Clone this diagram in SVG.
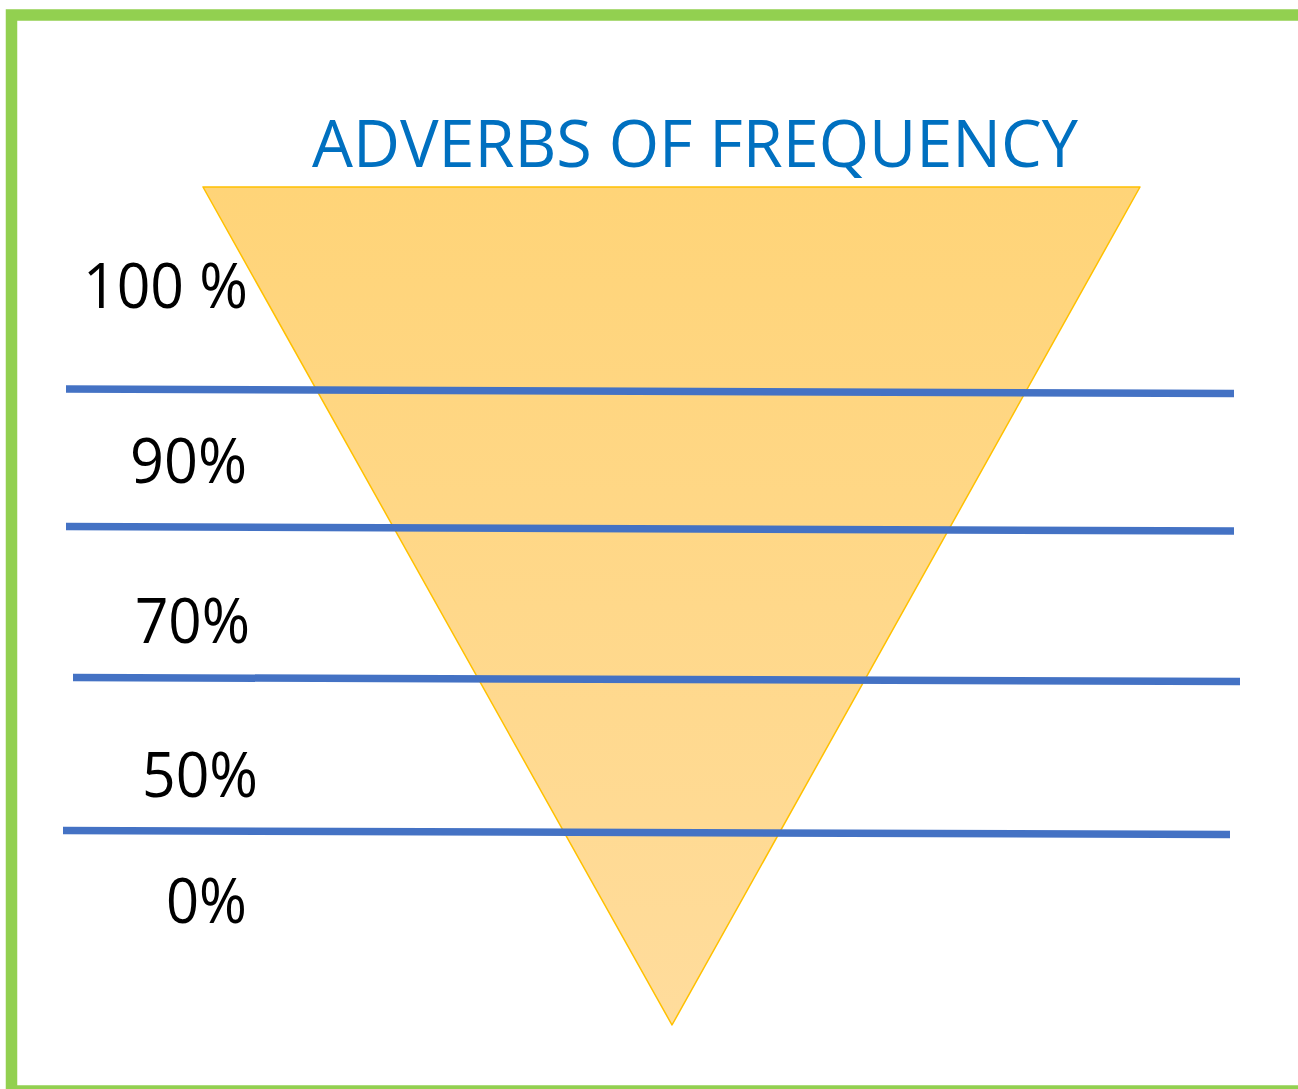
<svg xmlns="http://www.w3.org/2000/svg" width="1298" height="1089" viewBox="0 0 1298 1089">
<style>
.lbl{font-family:"Open Sans","Liberation Sans",sans-serif;font-size:63px;fill:#000}
.title{font-family:"Open Sans","Liberation Sans",sans-serif;font-size:66px;fill:#0070C0}
.sep{stroke:#4472C4;stroke-width:7.5;fill:none}
</style>
<defs>
<linearGradient id="tg" x1="0" y1="0" x2="0" y2="1">
<stop offset="0" stop-color="#FFD478"/>
<stop offset="1" stop-color="#FFDC9C"/>
</linearGradient>
</defs>
<rect x="0" y="0" width="1298" height="1089" fill="#fff"/>
<rect id="border" x="11.5" y="15" width="1300" height="1076" fill="none" stroke="#92D050" stroke-width="11.5"/>
<g id="title"><text class="title" x="312" y="167" textLength="766" lengthAdjust="spacingAndGlyphs">ADVERBS OF FREQUENCY</text></g>
<g id="funnel"><polygon points="203,187 1140,187 672,1025" fill="url(#tg)" stroke="#FFC000" stroke-width="1.5" stroke-linejoin="round"/></g>
<g id="connectors">
<line class="sep" x1="66" y1="389" x2="1234" y2="393.5"/>
<line class="sep" x1="66" y1="526.5" x2="1234" y2="531"/>
<line class="sep" x1="73" y1="677.5" x2="1240" y2="681.5"/>
<line class="sep" x1="63" y1="830.5" x2="1230" y2="834.5"/>
</g>
<g id="label-100"><text class="lbl" x="83" y="308" textLength="165" lengthAdjust="spacingAndGlyphs">100 %</text></g>
<g id="label-90"><text class="lbl" x="130" y="483" textLength="117" lengthAdjust="spacingAndGlyphs">90%</text></g>
<g id="label-70"><text class="lbl" x="135" y="643" textLength="115" lengthAdjust="spacingAndGlyphs">70%</text></g>
<g id="label-50"><text class="lbl" x="142" y="797" textLength="116" lengthAdjust="spacingAndGlyphs">50%</text></g>
<g id="label-0"><text class="lbl" x="166" y="923" textLength="81" lengthAdjust="spacingAndGlyphs">0%</text></g>
</svg>
